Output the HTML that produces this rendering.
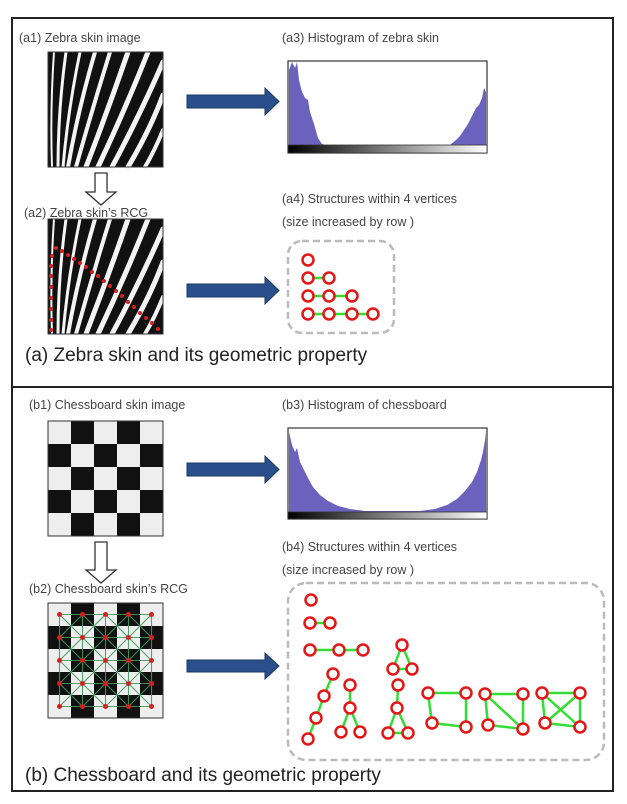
<!DOCTYPE html>
<html><head><meta charset="utf-8"><style>
html,body{margin:0;padding:0;background:#fff}
svg{display:block}
text{font-family:"Liberation Sans",sans-serif;fill:#444}
.l{font-size:12.5px}
.c{font-size:19px;fill:#222}
</style></head><body>
<svg width="627" height="804" viewBox="0 0 627 804" xmlns="http://www.w3.org/2000/svg">
<defs>
<linearGradient id="gb" x1="0" x2="1" y1="0" y2="0"><stop offset="0" stop-color="#000"/><stop offset="1" stop-color="#fff"/></linearGradient>
<g id="zebra">
<rect x="0" y="0" width="115" height="115" fill="#111"/>
<g fill="none" stroke="#f4f4f4" stroke-linecap="round">
<path d="M4,115 Q2,58 6,0" stroke-width="2"/>
<path d="M10,115 Q10,58 18,0" stroke-width="3"/>
<path d="M15,115 Q20,58 32,0" stroke-width="3"/>
<path d="M20,115 Q30,58 47,0" stroke-width="4"/>
<path d="M28,115 Q44,58 62,0" stroke-width="4"/>
<path d="M38,115 Q60,58 80,0" stroke-width="5"/>
<path d="M50,115 Q77,58 100,0" stroke-width="5"/>
<path d="M64,115 Q92,63 115,10" stroke-width="5"/>
<path d="M80,115 Q102,78 115,43" stroke-width="5"/>
<path d="M97,115 Q107,98 115,78" stroke-width="4"/>
</g>
<rect x="0" y="0" width="115" height="115" fill="none" stroke="#333" stroke-width="1"/>
</g>
<g id="chess">
<rect x="0" y="0" width="115" height="115" fill="#eee"/>
<g fill="#111">
<rect x="23" y="0" width="23" height="23"/><rect x="69" y="0" width="23" height="23"/>
<rect x="0" y="23" width="23" height="23"/><rect x="46" y="23" width="23" height="23"/><rect x="92" y="23" width="23" height="23"/>
<rect x="23" y="46" width="23" height="23"/><rect x="69" y="46" width="23" height="23"/>
<rect x="0" y="69" width="23" height="23"/><rect x="46" y="69" width="23" height="23"/><rect x="92" y="69" width="23" height="23"/>
<rect x="23" y="92" width="23" height="23"/><rect x="69" y="92" width="23" height="23"/>
</g>
<rect x="0" y="0" width="115" height="115" fill="none" stroke="#333" stroke-width="1"/>
</g>
</defs>

<!-- outer box -->
<rect x="12" y="18" width="601" height="773" fill="none" stroke="#222" stroke-width="2"/>
<line x1="12" y1="387" x2="613" y2="387" stroke="#222" stroke-width="2"/>

<!-- ===== (a) ===== -->
<text class="l" x="19" y="42">(a1) Zebra skin image</text>
<text class="l" x="282" y="42">(a3) Histogram of zebra skin</text>
<use href="#zebra" x="48" y="52"/>
<!-- down arrow -->
<path d="M95,173 H107 V192 H116 L101,205 L86,192 H95 Z" fill="#fff" stroke="#333" stroke-width="1.3"/>
<text class="l" x="24" y="217">(a2) Zebra skin’s RCG</text>
<use href="#zebra" x="48" y="219"/>
<g fill="#d62020">
<circle cx="56" cy="248" r="2"/><circle cx="62" cy="251" r="2"/><circle cx="68" cy="255" r="2"/><circle cx="74" cy="259" r="2"/><circle cx="80" cy="263" r="2"/><circle cx="86" cy="267" r="2"/><circle cx="92" cy="272" r="2"/><circle cx="98" cy="276" r="2"/><circle cx="104" cy="281" r="2"/><circle cx="110" cy="286" r="2"/><circle cx="116" cy="291" r="2"/><circle cx="122" cy="296" r="2"/><circle cx="128" cy="302" r="2"/><circle cx="134" cy="307" r="2"/><circle cx="140" cy="313" r="2"/><circle cx="146" cy="318" r="2"/><circle cx="152" cy="323" r="2"/><circle cx="158" cy="329" r="2"/>
<circle cx="52" cy="256" r="2"/><circle cx="51" cy="266" r="2"/><circle cx="51" cy="276" r="2"/><circle cx="51" cy="287" r="2"/><circle cx="51" cy="298" r="2"/><circle cx="51" cy="309" r="2"/><circle cx="51" cy="320" r="2"/><circle cx="51" cy="330" r="2"/>
</g>
<!-- blue arrows -->
<path d="M187,95 H265 V88 L279,101.5 L265,115 V108 H187 Z" fill="#2a4f8a" stroke="#1b3a6b" stroke-width="1"/>
<path d="M187,284 H265 V277 L279,290.5 L265,304 V297 H187 Z" fill="#2a4f8a" stroke="#1b3a6b" stroke-width="1"/>
<!-- histogram a3 -->
<rect x="288" y="61" width="199" height="92" fill="#fff" stroke="#333" stroke-width="1.2"/>
<path d="M289,145 V70 L292,62 L295,68 L297,62 L299,80 L302,92 L305,98 L308,100 L310,112 L314,124 L318,138 L322,144 L326,145 Z" fill="#6a62bc"/>
<path d="M450,145 L456,140 L460,136 L464,130 L468,124 L472,116 L476,108 L479,105 L482,98 L484,88 L486,92 L486,145 Z" fill="#6a62bc"/>
<rect x="288" y="145" width="199" height="8" fill="url(#gb)" stroke="#333" stroke-width="0.8"/>
<!-- a4 -->
<text class="l" x="282" y="203">(a4) Structures within 4 vertices</text>
<text class="l" x="282" y="226">(size increased by row )</text>
<rect x="288" y="241" width="106" height="92" rx="14" fill="none" stroke="#bbb" stroke-width="2.5" stroke-dasharray="7,4"/>
<g stroke="#33dd33" stroke-width="2.5">
<line x1="308" y1="278" x2="329" y2="278"/>
<line x1="308" y1="296" x2="352" y2="296"/>
<line x1="308" y1="314" x2="373" y2="314"/>
</g>
<g fill="#fff" stroke="#e51515" stroke-width="2.5">
<circle cx="308" cy="260" r="5.5"/>
<circle cx="308" cy="278" r="5.5"/><circle cx="329" cy="278" r="5.5"/>
<circle cx="308" cy="296" r="5.5"/><circle cx="329" cy="296" r="5.5"/><circle cx="352" cy="296" r="5.5"/>
<circle cx="308" cy="314" r="5.5"/><circle cx="329" cy="314" r="5.5"/><circle cx="352" cy="314" r="5.5"/><circle cx="373" cy="314" r="5.5"/>
</g>
<text class="c" x="25" y="361">(a) Zebra skin and its geometric property</text>

<!-- ===== (b) ===== -->
<text class="l" x="29" y="409">(b1) Chessboard skin image</text>
<text class="l" x="282" y="409">(b3) Histogram of chessboard</text>
<use href="#chess" x="48" y="421"/>
<path d="M95,542 H107 V570 H116 L101,583 L86,570 H95 Z" fill="#fff" stroke="#333" stroke-width="1.3"/>
<text class="l" x="29" y="593">(b2) Chessboard skin’s RCG</text>
<use href="#chess" x="48" y="603"/>
<g stroke="#3f9a5e" stroke-width="1.1" opacity="0.9">
<line x1="59.5" y1="614.5" x2="151.5" y2="614.5"/><line x1="59.5" y1="637.5" x2="151.5" y2="637.5"/><line x1="59.5" y1="660.5" x2="151.5" y2="660.5"/><line x1="59.5" y1="683.5" x2="151.5" y2="683.5"/><line x1="59.5" y1="706.5" x2="151.5" y2="706.5"/>
<line x1="59.5" y1="614.5" x2="59.5" y2="706.5"/><line x1="82.5" y1="614.5" x2="82.5" y2="706.5"/><line x1="105.5" y1="614.5" x2="105.5" y2="706.5"/><line x1="128.5" y1="614.5" x2="128.5" y2="706.5"/><line x1="151.5" y1="614.5" x2="151.5" y2="706.5"/>
<line x1="59.5" y1="614.5" x2="151.5" y2="706.5"/><line x1="59.5" y1="637.5" x2="128.5" y2="706.5"/><line x1="59.5" y1="660.5" x2="105.5" y2="706.5"/><line x1="59.5" y1="683.5" x2="82.5" y2="706.5"/><line x1="82.5" y1="614.5" x2="151.5" y2="683.5"/><line x1="105.5" y1="614.5" x2="151.5" y2="660.5"/><line x1="128.5" y1="614.5" x2="151.5" y2="637.5"/>
<line x1="59.5" y1="706.5" x2="151.5" y2="614.5"/><line x1="59.5" y1="683.5" x2="128.5" y2="614.5"/><line x1="59.5" y1="660.5" x2="105.5" y2="614.5"/><line x1="59.5" y1="637.5" x2="82.5" y2="614.5"/><line x1="82.5" y1="706.5" x2="151.5" y2="637.5"/><line x1="105.5" y1="706.5" x2="151.5" y2="660.5"/><line x1="128.5" y1="706.5" x2="151.5" y2="683.5"/>
</g>
<g fill="#d62020">
<circle cx="59.5" cy="614.5" r="2.5"/><circle cx="82.5" cy="614.5" r="2.5"/><circle cx="105.5" cy="614.5" r="2.5"/><circle cx="128.5" cy="614.5" r="2.5"/><circle cx="151.5" cy="614.5" r="2.5"/>
<circle cx="59.5" cy="637.5" r="2.5"/><circle cx="82.5" cy="637.5" r="2.5"/><circle cx="105.5" cy="637.5" r="2.5"/><circle cx="128.5" cy="637.5" r="2.5"/><circle cx="151.5" cy="637.5" r="2.5"/>
<circle cx="59.5" cy="660.5" r="2.5"/><circle cx="82.5" cy="660.5" r="2.5"/><circle cx="105.5" cy="660.5" r="2.5"/><circle cx="128.5" cy="660.5" r="2.5"/><circle cx="151.5" cy="660.5" r="2.5"/>
<circle cx="59.5" cy="683.5" r="2.5"/><circle cx="82.5" cy="683.5" r="2.5"/><circle cx="105.5" cy="683.5" r="2.5"/><circle cx="128.5" cy="683.5" r="2.5"/><circle cx="151.5" cy="683.5" r="2.5"/>
<circle cx="59.5" cy="706.5" r="2.5"/><circle cx="82.5" cy="706.5" r="2.5"/><circle cx="105.5" cy="706.5" r="2.5"/><circle cx="128.5" cy="706.5" r="2.5"/><circle cx="151.5" cy="706.5" r="2.5"/>
</g>
<path d="M187,463 H265 V456 L279,469.5 L265,483 V476 H187 Z" fill="#2a4f8a" stroke="#1b3a6b" stroke-width="1"/>
<path d="M187,660 H265 V653 L279,666 L265,679 V672 H187 Z" fill="#2a4f8a" stroke="#1b3a6b" stroke-width="1"/>
<!-- histogram b3 -->
<rect x="288" y="428" width="199" height="91" fill="#fff" stroke="#333" stroke-width="1.2"/>
<path d="M289,512 V432 L292,445 L295,452 L297,448 L300,462 L304,470 L308,478 L313,487 L320,495 L328,501 L338,506 L350,509 L365,511 L420,511 L435,509 L447,505 L457,499 L465,491 L472,482 L477,472 L481,460 L483,452 L485,440 L486,432 L486,512 Z" fill="#6a62bc"/>
<rect x="288" y="512" width="199" height="7" fill="url(#gb)" stroke="#333" stroke-width="0.8"/>
<!-- b4 -->
<text class="l" x="282" y="551">(b4) Structures within 4 vertices</text>
<text class="l" x="282" y="574">(size increased by row )</text>
<rect x="288" y="583" width="316" height="177" rx="18" fill="none" stroke="#bbb" stroke-width="2.5" stroke-dasharray="7,4"/>
<g stroke="#33dd33" stroke-width="2.5">
<line x1="310" y1="623" x2="330" y2="623"/>
<line x1="310" y1="650" x2="363" y2="650"/>
<line x1="402" y1="645" x2="393" y2="669"/><line x1="402" y1="645" x2="412" y2="669"/><line x1="393" y1="669" x2="412" y2="669"/>
<polyline points="333,674 324,696 316,718 308,739" fill="none"/>
<line x1="350" y1="685" x2="350" y2="708"/><line x1="350" y1="708" x2="341" y2="732"/><line x1="350" y1="708" x2="360" y2="732"/>
<line x1="398" y1="685" x2="397" y2="708"/><line x1="397" y1="708" x2="388" y2="733"/><line x1="397" y1="708" x2="408" y2="733"/><line x1="388" y1="733" x2="408" y2="733"/>
<polygon points="428,693 466,693 466,727 432,723" fill="none"/>
<polygon points="485,694 523,694 523,729 488,725" fill="none"/><line x1="485" y1="694" x2="523" y2="729"/>
<polygon points="542,693 580,693 580,727 545,723" fill="none"/><line x1="542" y1="693" x2="580" y2="727"/><line x1="580" y1="693" x2="545" y2="723"/>
</g>
<g fill="#fff" stroke="#e51515" stroke-width="2.5">
<circle cx="311" cy="600" r="5.5"/>
<circle cx="310" cy="623" r="5.5"/><circle cx="330" cy="623" r="5.5"/>
<circle cx="310" cy="650" r="5.5"/><circle cx="339" cy="650" r="5.5"/><circle cx="363" cy="650" r="5.5"/>
<circle cx="402" cy="645" r="5.5"/><circle cx="393" cy="669" r="5.5"/><circle cx="412" cy="669" r="5.5"/>
<circle cx="333" cy="674" r="5.5"/><circle cx="324" cy="696" r="5.5"/><circle cx="316" cy="718" r="5.5"/><circle cx="308" cy="739" r="5.5"/>
<circle cx="350" cy="685" r="5.5"/><circle cx="350" cy="708" r="5.5"/><circle cx="341" cy="732" r="5.5"/><circle cx="360" cy="732" r="5.5"/>
<circle cx="398" cy="685" r="5.5"/><circle cx="397" cy="708" r="5.5"/><circle cx="388" cy="733" r="5.5"/><circle cx="408" cy="733" r="5.5"/>
<circle cx="428" cy="693" r="5.5"/><circle cx="466" cy="693" r="5.5"/><circle cx="432" cy="723" r="5.5"/><circle cx="466" cy="727" r="5.5"/>
<circle cx="485" cy="694" r="5.5"/><circle cx="523" cy="694" r="5.5"/><circle cx="488" cy="725" r="5.5"/><circle cx="523" cy="729" r="5.5"/>
<circle cx="542" cy="693" r="5.5"/><circle cx="580" cy="693" r="5.5"/><circle cx="545" cy="723" r="5.5"/><circle cx="580" cy="727" r="5.5"/>
</g>
<text class="c" x="25" y="781">(b) Chessboard and its geometric property</text>
</svg>
</body></html>
